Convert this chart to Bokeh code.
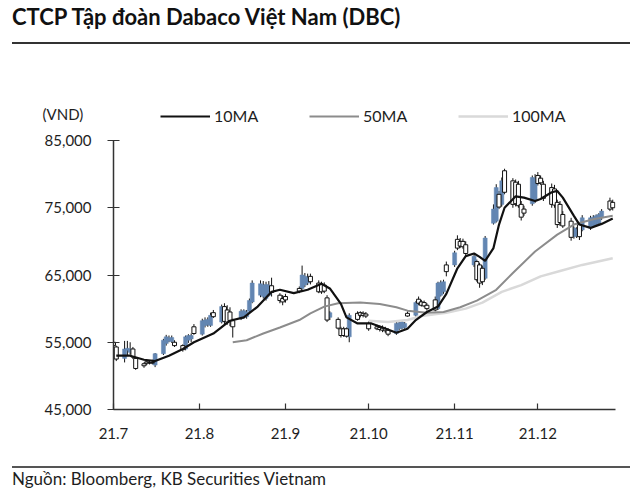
import pandas as pd
from bokeh.plotting import figure
from bokeh.models import (Range1d, FixedTicker, NumeralTickFormatter, Legend, LegendItem, Div, Label)
from bokeh.layouts import column
from bokeh.embed import file_html
from bokeh.resources import INLINE

# ---------------- data ----------------
title_text = "CTCP Tập đoàn Dabaco Việt Nam (DBC)"
source_text = "Nguồn: Bloomberg, KB Securities Vietnam"
unit_label = "(VND)"
series_names = ["10MA", "50MA", "100MA"]
month_starts = ["2021-07-01", "2021-08-01", "2021-09-01", "2021-10-01", "2021-11-01", "2021-12-01"]
month_labels = ["21.7", "21.8", "21.9", "21.10", "21.11", "21.12"]
y_ticks = [45000, 55000, 65000, 75000, 85000]
holidays = ["2021-09-02", "2021-09-03"]

opens = [
    55000, 54300, 52600, 53800, 53500, 54000, 52600, 51800, 52100, 52000, 52000,
    51600, 53300, 54800, 55200, 55100, 55000, 54500, 54000, 55300, 55500, 57300,
    56200, 57500, 57600, 57500, 59400, 58000, 60300, 59800, 59500, 58200, 58500,
    58700, 58800, 59600, 61000, 62000, 61800, 61500, 62000, 63400, 62000, 61500,
    61800, 63000, 63000, 63500, 63800, 64800, 63800, 63600, 63500, 61600, 58700,
    58400, 57000, 57000, 57000, 55800, 59300, 59400, 59300, 59200,
    57800, 57300, 57200, 57100, 57000, 56800, 56300, 57000, 57100, 57200, 59300,
    59000, 61400, 61000, 60900, 60500, 61300, 60000, 62000, 62500, 66500,
    66500, 70300, 70000, 70000, 69500, 66500, 67000, 66500, 66000, 64500, 72700,
    73000, 77000, 75500, 80500, 79000, 78800, 78500, 75500, 74800, 75600, 76000,
    79800, 79400, 78500, 78000, 77800, 75800, 75500, 74000, 73000, 70700, 70800,
    72500, 71700, 72000, 72300, 72500, 72700, 73500, 76000, 75800,
]
highs = [
    56300, 54500, 55200, 55200, 55000, 54300, 52800, 52000, 52300, 52300, 52400,
    53400, 55500, 56100, 56000, 56000, 55300, 54700, 56000, 56200, 56300, 57700,
    58500, 58700, 58700, 59400, 59800, 60600, 60800, 60500, 60200, 58500, 59900,
    59900, 59800, 61500, 64200, 64200, 64100, 64000, 64100, 64600, 62300, 62000,
    62200, 63300, 66400, 65300, 65200, 65200, 64200, 64000, 63900, 62000, 59600,
    58700, 57300, 57300, 57200, 59300, 59600, 59600, 59600, 59500,
    58100, 57600, 57500, 57500, 57300, 57100, 58000, 58200, 58300, 58000, 59600,
    61100, 61800, 61300, 61200, 60800, 61800, 64000, 64200, 64300, 67000,
    68600, 70900, 70500, 70400, 70000, 68100, 67300, 66800, 66400, 70800, 75500,
    78500, 77500, 79500, 80800, 79400, 79200, 79000, 76000, 75300, 79800, 80000,
    80300, 79800, 79000, 78600, 78400, 76200, 76000, 74500, 73500, 72200, 72100,
    72800, 73900, 73800, 73900, 74000, 74200, 74800, 76500, 76200,
]
lows = [
    54200, 52200, 52000, 53000, 53200, 52500, 50900, 51200, 51600, 51700, 51700,
    51300, 53100, 54500, 55000, 54900, 54300, 53600, 53800, 54900, 55000, 56100,
    56000, 57200, 57300, 57300, 58600, 57800, 57700, 57600, 57400, 55700, 58300,
    58500, 58500, 59400, 60800, 61700, 61500, 61200, 61800, 61800, 60800, 60500,
    60900, 62300, 62800, 63200, 63500, 63600, 62300, 62200, 62300, 58000, 58300,
    56900, 55700, 55800, 55700, 55000, 58200, 58700, 58700, 58600,
    56700, 56800, 56600, 56500, 56400, 55900, 56100, 56800, 56900, 57000, 58800,
    58800, 60500, 60300, 60200, 59700, 59600, 59800, 61800, 62200, 64800,
    66200, 68700, 69000, 68900, 67800, 66200, 64000, 63100, 63500, 64300, 72500,
    72800, 74800, 75200, 77000, 75000, 75200, 75000, 73100, 73800, 75300, 75700,
    78300, 78400, 76000, 75000, 75000, 72000, 72300, 72000, 70100, 70400, 70500,
    70200, 71500, 71700, 72000, 72200, 72500, 73200, 74500, 74600,
]
closes = [
    54500, 52500, 54000, 54100, 54000, 52800, 51100, 51500, 51900, 51900, 51900,
    53300, 55300, 55800, 55600, 55700, 54500, 53900, 55800, 56000, 56000, 56300,
    58200, 58300, 58400, 59000, 58800, 60300, 58100, 58000, 58200, 57300, 59600,
    59700, 59500, 61200, 63800, 63700, 63500, 63600, 63500, 62400, 61200, 61000,
    61300, 62600, 65000, 64800, 64600, 64000, 62500, 62500, 62600, 58300, 59400,
    57100, 56000, 56000, 55900, 59000, 58400, 59000, 59000, 58900,
    57000, 57000, 56900, 56800, 56700, 56200, 57800, 57900, 58000, 57800, 58900,
    60900, 60800, 60500, 60400, 60000, 59800, 63800, 63900, 64000, 65500,
    68300, 69000, 69300, 69200, 68200, 67800, 64300, 63800, 64000, 70500, 74800,
    78000, 75100, 79000, 77300, 75500, 75600, 75300, 73600, 74200, 79500, 79400,
    78600, 78700, 76400, 75500, 75400, 72500, 72800, 72300, 70600, 72000, 71800,
    70700, 73500, 73500, 73600, 73800, 74000, 74500, 74800, 75000,
]

ma10_dates = [
    "2021-07-02", "2021-07-07", "2021-07-12", "2021-07-16", "2021-07-21", "2021-07-26",
    "2021-07-30", "2021-08-06", "2021-08-12", "2021-08-17", "2021-08-22", "2021-08-27",
    "2021-08-30", "2021-09-04", "2021-09-09", "2021-09-14", "2021-09-17", "2021-09-21",
    "2021-09-23", "2021-09-27", "2021-10-02", "2021-10-06", "2021-10-11", "2021-10-15",
    "2021-10-18", "2021-10-22", "2021-10-26", "2021-10-29", "2021-11-02", "2021-11-05",
    "2021-11-08", "2021-11-10", "2021-11-12", "2021-11-15", "2021-11-17", "2021-11-19",
    "2021-11-23", "2021-11-26", "2021-11-30", "2021-12-02", "2021-12-06", "2021-12-08",
    "2021-12-10", "2021-12-14", "2021-12-16", "2021-12-20", "2021-12-22", "2021-12-24",
    "2021-12-28",
]
ma10_values = [
    53000, 53000, 52400, 52200, 53000, 54000,
    55000, 56300, 58200, 58700, 60300, 62500,
    62800, 62300, 62800, 63700, 63000, 60700,
    58700, 57800, 57800, 57200, 56400, 57000,
    58300, 59500, 60300, 62200, 66000, 67800,
    68200, 67700, 67100, 69000, 72500, 75000,
    76700, 76500, 76000, 76300, 77300, 77500,
    76500, 73800, 72500, 72000, 72300, 72600,
    73400,
]
ma50_dates = [
    "2021-08-13", "2021-08-18", "2021-08-24", "2021-08-30", "2021-09-06", "2021-09-10",
    "2021-09-15", "2021-09-20", "2021-09-28", "2021-10-05", "2021-10-11", "2021-10-15",
    "2021-10-22", "2021-10-28", "2021-11-03", "2021-11-09", "2021-11-16", "2021-11-22",
    "2021-11-30", "2021-12-08", "2021-12-14", "2021-12-21", "2021-12-28",
]
ma50_values = [
    55000, 55300, 56300, 57200, 58300, 59300,
    60300, 60800, 60900, 60700, 60200, 59700,
    59400, 59500, 60200, 61200, 62800, 65300,
    68500, 71000, 72500, 73300, 73800,
]
ma100_dates = [
    "2021-10-01", "2021-10-08", "2021-10-15", "2021-10-20", "2021-10-29", "2021-11-05",
    "2021-11-11", "2021-11-18", "2021-11-25", "2021-12-02", "2021-12-09", "2021-12-17",
    "2021-12-28",
]
ma100_values = [
    58200, 58000, 58300, 58900, 59400, 60000,
    60900, 62500, 63500, 64800, 65600, 66500,
    67500,
]

# ---------------- build ----------------
start = pd.Timestamp(month_starts[0])
trade_dates = pd.bdate_range("2021-07-01", "2021-12-28").drop(pd.to_datetime(holidays))


def to_day(ds):
    return [float((pd.Timestamp(d) - start).days) for d in ds]


xd = to_day(trade_dates)
up_x, up_top, up_bot = [], [], []
dn_x, dn_top, dn_bot = [], [], []
for x, o, c in zip(xd, opens, closes):
    if c >= o:
        up_x.append(x); up_top.append(c); up_bot.append(o)
    else:
        dn_x.append(x); dn_top.append(o); dn_bot.append(c)

FONT = "Lato"
TXT = "#1e1e1e"
MA_STYLE = [("#111111", 2.2), ("#8c8c8c", 2.0), ("#d9d9d9", 2.5)]
ma_series = [(ma10_dates, ma10_values), (ma50_dates, ma50_values), (ma100_dates, ma100_values)]

# ---- main chart ----
p = figure(width=640, height=336, x_range=Range1d(0, 181), y_range=Range1d(45000, 85000),
           output_backend="svg", toolbar_location=None,
           min_border_left=113, min_border_right=25, min_border_top=10, min_border_bottom=57)
p.frame_align = False
p.outline_line_color = None
p.grid.visible = False
p.background_fill_color = "white"

p.segment(x0=xd, y0=highs, x1=xd, y1=lows, line_color="#111111", line_width=1)
p.vbar(x=up_x, top=up_top, bottom=up_bot, width=1.45, fill_color="#6386b2", line_color="#6386b2",
       line_width=0.5)
p.vbar(x=dn_x, top=dn_top, bottom=dn_bot, width=1.45, fill_color="white", line_color="#111111",
       line_width=1)

for (d, v), (col, lw) in reversed(list(zip(ma_series, MA_STYLE))):
    p.line(to_day(d), v, line_color=col, line_width=lw)

xticks = to_day(month_starts)
p.xaxis.ticker = FixedTicker(ticks=xticks)
p.xaxis.major_label_overrides = {t: lab for t, lab in zip(xticks, month_labels)}
p.xaxis.minor_tick_line_color = None
p.xaxis.major_tick_in = 6
p.xaxis.major_tick_out = 0
p.xaxis.major_label_standoff = 18

p.yaxis.ticker = FixedTicker(ticks=y_ticks)
p.yaxis.formatter = NumeralTickFormatter(format="0,0")
p.yaxis.minor_tick_line_color = None
p.yaxis.major_tick_in = 6
p.yaxis.major_tick_out = 6
p.yaxis.major_label_standoff = 16

for ax in (p.xaxis[0], p.yaxis[0]):
    ax.axis_line_color = "#333333"
    ax.axis_line_width = 1.5
    ax.major_tick_line_color = "#333333"
    ax.major_tick_line_width = 1.2
    ax.major_label_text_font = FONT
    ax.major_label_text_font_size = "15px"
    ax.major_label_text_color = TXT

# ---- legend strip (unit label + legend) ----
lg = figure(width=640, height=86, x_range=Range1d(0, 640), y_range=Range1d(86, 0),
            output_backend="svg", toolbar_location=None, x_axis_type=None, y_axis_type=None,
            min_border_left=0, min_border_right=0, min_border_top=0, min_border_bottom=0)
lg.frame_align = False
lg.outline_line_color = None
lg.grid.visible = False
items = []
for name, (d, v), (col, lw) in zip(series_names, ma_series, MA_STYLE):
    # same series, drawn far outside this strip's view: only its legend sample shows
    r = lg.line(x=to_day(d), y=v, line_color=col, line_width=lw)
    items.append(LegendItem(label=name, renderers=[r]))
lg.add_layout(Label(x=42, y=69, text=unit_label, text_font=FONT, text_font_size="15px",
                    text_color=TXT, text_baseline="middle", text_align="left"))
legend = Legend(items=items, orientation="horizontal", location=(160, 5),
                glyph_width=50, glyph_height=16, label_width=95, label_height=16,
                label_standoff=4, spacing=0, padding=0, margin=0,
                border_line_color=None, background_fill_alpha=0,
                label_text_font=FONT, label_text_font_size="16px", label_text_color=TXT,
                label_text_baseline="middle")
lg.add_layout(legend, "center")

title_div = Div(text=title_text, width=618, height=44, margin=(0, 0, 0, 12),
                styles={"font-family": "Lato", "font-size": "22px", "font-weight": "bold",
                        "color": "#111111", "border-bottom": "2px solid #333333",
                        "box-sizing": "border-box", "line-height": "26px", "padding-top": "4px"})
source_div = Div(text=source_text, width=618, height=31, margin=(0, 0, 0, 12),
                 styles={"font-family": "Lato", "font-size": "17px", "color": TXT,
                         "border-top": "2px solid #555555", "box-sizing": "border-box",
                         "line-height": "22px"})

layout = column(title_div, lg, p, source_div, spacing=0)
open("out.html", "w").write(file_html(layout, INLINE))
